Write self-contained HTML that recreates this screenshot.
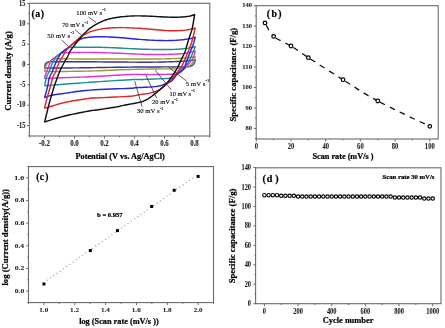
<!DOCTYPE html>
<html><head><meta charset="utf-8"><style>
html,body{margin:0;padding:0;background:#fff;}
svg{display:block;will-change:transform;}
text{font-family:"Liberation Serif",serif;fill:#000;stroke:#000;stroke-width:0.22px;}
.tk{stroke:#222;stroke-width:0.08px;fill:#1a1a1a;}
</style></head><body>
<svg width="445" height="328" viewBox="0 0 445 328">
<rect width="445" height="328" fill="#fff"/>
<rect x="29.4" y="3.3" width="180.4" height="132.7" fill="none" stroke="#6a6a6a" stroke-width="1.1"/>
<line x1="27.1" y1="3.45" x2="29.4" y2="3.45" stroke="#6a6a6a" stroke-width="1"/>
<line x1="27.1" y1="23.8" x2="29.4" y2="23.8" stroke="#6a6a6a" stroke-width="1"/>
<line x1="27.1" y1="44.15" x2="29.4" y2="44.15" stroke="#6a6a6a" stroke-width="1"/>
<line x1="27.1" y1="64.5" x2="29.4" y2="64.5" stroke="#6a6a6a" stroke-width="1"/>
<line x1="27.1" y1="84.85" x2="29.4" y2="84.85" stroke="#6a6a6a" stroke-width="1"/>
<line x1="27.1" y1="105.2" x2="29.4" y2="105.2" stroke="#6a6a6a" stroke-width="1"/>
<line x1="27.1" y1="125.55" x2="29.4" y2="125.55" stroke="#6a6a6a" stroke-width="1"/>
<line x1="28.2" y1="13.62" x2="29.4" y2="13.62" stroke="#6a6a6a" stroke-width="1"/>
<line x1="28.2" y1="33.97" x2="29.4" y2="33.97" stroke="#6a6a6a" stroke-width="1"/>
<line x1="28.2" y1="54.33" x2="29.4" y2="54.33" stroke="#6a6a6a" stroke-width="1"/>
<line x1="28.2" y1="74.67" x2="29.4" y2="74.67" stroke="#6a6a6a" stroke-width="1"/>
<line x1="28.2" y1="95.03" x2="29.4" y2="95.03" stroke="#6a6a6a" stroke-width="1"/>
<line x1="28.2" y1="115.38" x2="29.4" y2="115.38" stroke="#6a6a6a" stroke-width="1"/>
<line x1="28.2" y1="135.73" x2="29.4" y2="135.73" stroke="#6a6a6a" stroke-width="1"/>
<line x1="44.5" y1="136" x2="44.5" y2="138.5" stroke="#6a6a6a" stroke-width="1"/>
<line x1="74.5" y1="136" x2="74.5" y2="138.5" stroke="#6a6a6a" stroke-width="1"/>
<line x1="104.5" y1="136" x2="104.5" y2="138.5" stroke="#6a6a6a" stroke-width="1"/>
<line x1="134.5" y1="136" x2="134.5" y2="138.5" stroke="#6a6a6a" stroke-width="1"/>
<line x1="164.5" y1="136" x2="164.5" y2="138.5" stroke="#6a6a6a" stroke-width="1"/>
<line x1="194.5" y1="136" x2="194.5" y2="138.5" stroke="#6a6a6a" stroke-width="1"/>
<line x1="29.5" y1="136" x2="29.5" y2="137.3" stroke="#6a6a6a" stroke-width="1"/>
<line x1="59.5" y1="136" x2="59.5" y2="137.3" stroke="#6a6a6a" stroke-width="1"/>
<line x1="89.5" y1="136" x2="89.5" y2="137.3" stroke="#6a6a6a" stroke-width="1"/>
<line x1="119.5" y1="136" x2="119.5" y2="137.3" stroke="#6a6a6a" stroke-width="1"/>
<line x1="149.5" y1="136" x2="149.5" y2="137.3" stroke="#6a6a6a" stroke-width="1"/>
<line x1="179.5" y1="136" x2="179.5" y2="137.3" stroke="#6a6a6a" stroke-width="1"/>
<line x1="209.5" y1="136" x2="209.5" y2="137.3" stroke="#6a6a6a" stroke-width="1"/>
<text x="25.45" y="5.65" font-size="7.55" font-weight="bold" text-anchor="end" textLength="6.4" lengthAdjust="spacingAndGlyphs" class="tk">15</text>
<text x="25.45" y="26" font-size="7.55" font-weight="bold" text-anchor="end" textLength="6.4" lengthAdjust="spacingAndGlyphs" class="tk">10</text>
<text x="25.45" y="46.35" font-size="7.55" font-weight="bold" text-anchor="end" textLength="3.2" lengthAdjust="spacingAndGlyphs" class="tk">5</text>
<text x="25.45" y="66.7" font-size="7.55" font-weight="bold" text-anchor="end" textLength="3.2" lengthAdjust="spacingAndGlyphs" class="tk">0</text>
<text x="25.45" y="87.05" font-size="7.55" font-weight="bold" text-anchor="end" textLength="5.33" lengthAdjust="spacingAndGlyphs" class="tk">-5</text>
<text x="25.45" y="107.4" font-size="7.55" font-weight="bold" text-anchor="end" textLength="8.53" lengthAdjust="spacingAndGlyphs" class="tk">-10</text>
<text x="25.45" y="127.75" font-size="7.55" font-weight="bold" text-anchor="end" textLength="8.53" lengthAdjust="spacingAndGlyphs" class="tk">-15</text>
<text x="44.5" y="145.7" font-size="7.38" font-weight="bold" text-anchor="middle" textLength="10.92" lengthAdjust="spacingAndGlyphs" class="tk">-0.2</text>
<text x="74.5" y="145.7" font-size="7.38" font-weight="bold" text-anchor="middle" textLength="8.62" lengthAdjust="spacingAndGlyphs" class="tk">0.0</text>
<text x="104.5" y="145.7" font-size="7.38" font-weight="bold" text-anchor="middle" textLength="8.62" lengthAdjust="spacingAndGlyphs" class="tk">0.2</text>
<text x="134.5" y="145.7" font-size="7.38" font-weight="bold" text-anchor="middle" textLength="8.62" lengthAdjust="spacingAndGlyphs" class="tk">0.4</text>
<text x="164.5" y="145.7" font-size="7.38" font-weight="bold" text-anchor="middle" textLength="8.62" lengthAdjust="spacingAndGlyphs" class="tk">0.6</text>
<text x="194.5" y="145.7" font-size="7.38" font-weight="bold" text-anchor="middle" textLength="8.62" lengthAdjust="spacingAndGlyphs" class="tk">0.8</text>
<text x="75.46" y="158.6" font-size="8.3" font-weight="bold" fill="#000" textLength="89.3" lengthAdjust="spacingAndGlyphs" >Potential (V vs. Ag/AgCl)</text>
<text transform="translate(11.4,110.82) rotate(-90)" x="0" y="0" font-size="8.4" font-weight="bold" fill="#000" textLength="79.6" lengthAdjust="spacingAndGlyphs">Current density (A/g)</text>
<text y="17.2" font-size="9.8" font-weight="bold"><tspan x="31.47">(</tspan><tspan x="35.22">a</tspan><tspan x="40.77">)</tspan></text>
<g fill="none" stroke-width="1.45" stroke-linejoin="round">
<path d="M44.8,68 L44.8,67.85 L44.81,67.64 L44.81,67.4 L44.81,67.12 L44.82,66.84 L44.84,66.55 L44.86,66.26 L44.9,66 L44.95,65.74 L45.01,65.48 L45.07,65.21 L45.14,64.95 L45.22,64.69 L45.31,64.44 L45.4,64.21 L45.5,64 L45.6,63.81 L45.7,63.63 L45.8,63.47 L45.91,63.33 L46.03,63.19 L46.17,63.05 L46.32,62.93 L46.5,62.8 L46.69,62.68 L46.89,62.56 L47.11,62.45 L47.34,62.34 L47.6,62.25 L47.87,62.16 L48.17,62.07 L48.5,62 L48.63,61.94 L48.46,61.88 L48.19,61.83 L48,61.79 L48.09,61.76 L48.66,61.74 L49.9,61.71 L52,61.7 L55.09,61.69 L59.03,61.69 L63.64,61.7 L68.72,61.71 L74.09,61.73 L79.55,61.75 L84.92,61.78 L90,61.8 L95.05,61.83 L100.35,61.87 L105.78,61.91 L111.19,61.95 L116.45,61.99 L121.43,62.03 L125.99,62.07 L130,62.1 L133.37,62.13 L136.18,62.15 L138.58,62.17 L140.69,62.19 L142.65,62.21 L144.6,62.21 L146.67,62.21 L149,62.2 L151.57,62.18 L154.25,62.14 L156.99,62.1 L159.75,62.06 L162.48,62 L165.12,61.94 L167.65,61.87 L170,61.8 L172.19,61.72 L174.28,61.64 L176.28,61.55 L178.17,61.45 L179.99,61.35 L181.73,61.24 L183.4,61.12 L185,61 L186.57,60.86 L188.13,60.7 L189.62,60.53 L191.04,60.35 L192.33,60.18 L193.48,60.02 L194.45,59.9 L195.2,59.8 L195.16,60.01 L195.12,60.29 L195.07,60.62 L195.01,60.99 L194.94,61.38 L194.85,61.78 L194.74,62.15 L194.6,62.5 L194.44,62.83 L194.27,63.16 L194.08,63.5 L193.87,63.83 L193.64,64.14 L193.38,64.45 L193.1,64.74 L192.8,65 L192.47,65.24 L192.13,65.47 L191.77,65.68 L191.38,65.88 L190.96,66.06 L190.51,66.23 L190.03,66.37 L189.5,66.5 L188.94,66.61 L188.36,66.69 L187.75,66.75 L187.11,66.79 L186.42,66.83 L185.67,66.85 L184.87,66.88 L184,66.9 L183.08,66.92 L182.14,66.93 L181.15,66.93 L180.09,66.93 L178.97,66.92 L177.75,66.91 L176.44,66.9 L175,66.9 L173.51,66.9 L172.02,66.9 L170.47,66.89 L168.81,66.89 L166.99,66.89 L164.95,66.89 L162.63,66.89 L160,66.9 L157.04,66.91 L153.79,66.93 L150.29,66.94 L146.56,66.96 L142.64,66.99 L138.55,67.02 L134.33,67.05 L130,67.1 L125.41,67.16 L120.47,67.23 L115.29,67.31 L110,67.39 L104.71,67.48 L99.53,67.56 L94.59,67.64 L90,67.7 L85.67,67.75 L81.45,67.8 L77.37,67.85 L73.45,67.89 L69.73,67.92 L66.23,67.95 L62.97,67.98 L60,68 L57.29,68.01 L54.8,68.02 L52.55,68.02 L50.52,68.02 L48.74,68.01 L47.18,68.01 L45.87,68 L44.8,68Z" stroke="#34349a"/>
<path d="M44.8,71.5 L44.84,71.23 L44.88,70.85 L44.94,70.41 L45,69.92 L45.07,69.42 L45.14,68.91 L45.22,68.43 L45.3,68 L45.38,67.61 L45.46,67.23 L45.55,66.85 L45.64,66.49 L45.74,66.15 L45.85,65.81 L45.97,65.5 L46.1,65.2 L46.24,64.93 L46.38,64.68 L46.53,64.46 L46.69,64.25 L46.87,64.05 L47.06,63.84 L47.27,63.63 L47.5,63.4 L47.76,63.16 L48.04,62.92 L48.33,62.67 L48.65,62.42 L48.98,62.17 L49.31,61.91 L49.66,61.66 L50,61.4 L50.35,61.13 L50.71,60.84 L51.09,60.55 L51.47,60.25 L51.85,59.97 L52.24,59.71 L52.62,59.48 L53,59.3 L53.35,59.17 L53.68,59.07 L53.99,59.01 L54.31,58.98 L54.66,58.95 L55.04,58.94 L55.48,58.92 L56,58.9 L56.46,58.87 L56.77,58.85 L57.06,58.83 L57.44,58.81 L58.01,58.8 L58.88,58.8 L60.18,58.8 L62,58.8 L64.24,58.81 L66.73,58.83 L69.53,58.86 L72.69,58.89 L76.26,58.93 L80.3,58.96 L84.87,58.98 L90,59 L96.15,59.01 L103.46,59.02 L111.52,59.03 L119.94,59.03 L128.3,59.03 L136.2,59.03 L143.23,59.02 L149,59 L153.48,58.98 L157.06,58.96 L159.92,58.93 L162.25,58.89 L164.23,58.85 L166.06,58.81 L167.92,58.76 L170,58.7 L172.19,58.64 L174.28,58.57 L176.28,58.5 L178.17,58.42 L179.99,58.33 L181.73,58.23 L183.4,58.12 L185,58 L186.57,57.85 L188.13,57.67 L189.62,57.46 L191.04,57.26 L192.33,57.05 L193.48,56.87 L194.45,56.71 L195.2,56.6 L195.12,56.9 L195.01,57.31 L194.9,57.79 L194.76,58.33 L194.6,58.9 L194.42,59.46 L194.22,60 L194,60.5 L193.76,60.96 L193.5,61.41 L193.22,61.86 L192.93,62.31 L192.6,62.74 L192.26,63.17 L191.89,63.59 L191.5,64 L191.08,64.41 L190.64,64.82 L190.18,65.22 L189.69,65.62 L189.18,66 L188.64,66.36 L188.08,66.7 L187.5,67 L186.89,67.28 L186.27,67.53 L185.61,67.76 L184.94,67.97 L184.24,68.16 L183.52,68.32 L182.77,68.47 L182,68.6 L181.25,68.7 L180.54,68.77 L179.84,68.82 L179.09,68.85 L178.28,68.87 L177.35,68.88 L176.27,68.89 L175,68.9 L173.61,68.91 L172.16,68.91 L170.62,68.9 L168.94,68.88 L167.08,68.87 L164.99,68.86 L162.65,68.87 L160,68.9 L157.04,68.94 L153.79,68.99 L150.29,69.04 L146.56,69.11 L142.64,69.18 L138.55,69.27 L134.33,69.38 L130,69.5 L125.41,69.65 L120.47,69.84 L115.29,70.04 L110,70.26 L104.71,70.47 L99.53,70.67 L94.59,70.85 L90,71 L85.67,71.11 L81.45,71.21 L77.37,71.28 L73.45,71.34 L69.73,71.39 L66.23,71.43 L62.97,71.47 L60,71.5 L57.29,71.52 L54.8,71.54 L52.55,71.54 L50.52,71.53 L48.74,71.52 L47.18,71.51 L45.87,71.5 L44.8,71.5Z" stroke="#9a9a3c"/>
<path d="M44.8,78.5 L44.81,78.32 L44.8,78.09 L44.8,77.81 L44.8,77.5 L44.81,77.16 L44.85,76.79 L44.91,76.4 L45,76 L45.13,75.57 L45.3,75.11 L45.5,74.61 L45.71,74.09 L45.94,73.57 L46.17,73.04 L46.39,72.51 L46.6,72 L46.8,71.5 L47.01,71 L47.21,70.5 L47.42,70 L47.62,69.5 L47.82,69 L48.01,68.5 L48.2,68 L48.38,67.49 L48.55,66.97 L48.72,66.44 L48.88,65.92 L49.04,65.4 L49.2,64.91 L49.35,64.44 L49.5,64 L49.64,63.6 L49.77,63.22 L49.89,62.86 L50.01,62.52 L50.14,62.2 L50.27,61.9 L50.43,61.6 L50.6,61.3 L50.79,61.02 L50.98,60.76 L51.18,60.53 L51.4,60.29 L51.64,60.06 L51.89,59.83 L52.18,59.57 L52.5,59.3 L52.86,59 L53.27,58.69 L53.72,58.36 L54.18,58.02 L54.65,57.68 L55.12,57.34 L55.58,57.01 L56,56.7 L56.4,56.39 L56.8,56.08 L57.18,55.77 L57.56,55.46 L57.93,55.17 L58.3,54.89 L58.65,54.63 L59,54.4 L59.33,54.19 L59.65,54.01 L59.95,53.84 L60.25,53.69 L60.55,53.55 L60.85,53.42 L61.17,53.31 L61.5,53.2 L61.83,53.1 L62.14,53.02 L62.44,52.94 L62.76,52.88 L63.1,52.83 L63.5,52.78 L63.96,52.74 L64.5,52.7 L65.05,52.67 L65.56,52.65 L66.09,52.64 L66.69,52.63 L67.42,52.63 L68.33,52.62 L69.47,52.61 L70.9,52.6 L72.61,52.57 L74.53,52.53 L76.65,52.48 L78.98,52.44 L81.48,52.4 L84.16,52.38 L87,52.37 L90,52.4 L93.24,52.46 L96.76,52.54 L100.5,52.64 L104.38,52.76 L108.34,52.89 L112.31,53.03 L116.22,53.17 L120,53.3 L123.73,53.45 L127.51,53.61 L131.3,53.79 L135.06,53.97 L138.75,54.14 L142.34,54.29 L145.76,54.41 L149,54.5 L152.05,54.55 L154.95,54.57 L157.72,54.56 L160.38,54.54 L162.92,54.5 L165.36,54.44 L167.72,54.37 L170,54.3 L172.19,54.22 L174.28,54.13 L176.28,54.04 L178.17,53.92 L179.99,53.8 L181.73,53.65 L183.4,53.49 L185,53.3 L186.57,53.07 L188.13,52.78 L189.62,52.47 L191.04,52.14 L192.33,51.82 L193.48,51.52 L194.45,51.28 L195.2,51.1 L195.1,51.48 L194.98,51.98 L194.84,52.57 L194.68,53.24 L194.49,53.94 L194.28,54.65 L194.05,55.35 L193.8,56 L193.51,56.63 L193.19,57.29 L192.83,57.96 L192.46,58.62 L192.07,59.27 L191.7,59.89 L191.34,60.47 L191,61 L190.7,61.46 L190.44,61.84 L190.19,62.18 L189.95,62.5 L189.69,62.82 L189.41,63.16 L189.08,63.54 L188.7,64 L188.25,64.54 L187.74,65.14 L187.19,65.79 L186.61,66.46 L186.02,67.14 L185.43,67.8 L184.85,68.43 L184.3,69 L183.77,69.53 L183.26,70.05 L182.74,70.54 L182.24,71.02 L181.73,71.47 L181.23,71.88 L180.72,72.26 L180.2,72.6 L179.69,72.9 L179.2,73.15 L178.71,73.37 L178.22,73.56 L177.71,73.72 L177.18,73.87 L176.61,73.99 L176,74.1 L175.43,74.19 L174.95,74.24 L174.5,74.27 L173.99,74.27 L173.35,74.27 L172.53,74.27 L171.43,74.28 L170,74.3 L168.17,74.34 L165.98,74.38 L163.53,74.42 L160.88,74.47 L158.12,74.51 L155.33,74.55 L152.6,74.58 L150,74.6 L147.64,74.59 L145.47,74.55 L143.38,74.49 L141.25,74.42 L138.96,74.38 L136.41,74.37 L133.46,74.4 L130,74.5 L125.89,74.68 L121.17,74.94 L116.03,75.24 L110.62,75.58 L105.15,75.93 L99.77,76.26 L94.66,76.56 L90,76.8 L85.67,76.99 L81.45,77.15 L77.37,77.28 L73.45,77.4 L69.73,77.5 L66.23,77.6 L62.97,77.7 L60,77.8 L57.29,77.91 L54.8,78.01 L52.55,78.12 L50.52,78.21 L48.74,78.3 L47.18,78.38 L45.87,78.45 L44.8,78.5Z" stroke="#dd33dd"/>
<path d="M44.8,85.8 L44.81,85.68 L44.82,85.53 L44.83,85.35 L44.85,85.15 L44.87,84.92 L44.9,84.65 L44.94,84.34 L45,84 L45.07,83.61 L45.15,83.15 L45.24,82.66 L45.34,82.14 L45.45,81.6 L45.56,81.05 L45.68,80.52 L45.8,80 L45.92,79.5 L46.03,79 L46.15,78.5 L46.27,78 L46.4,77.5 L46.55,77 L46.71,76.5 L46.9,76 L47.12,75.5 L47.37,75 L47.64,74.5 L47.92,74 L48.21,73.5 L48.49,73 L48.75,72.5 L49,72 L49.23,71.5 L49.44,71 L49.65,70.5 L49.84,70 L50.04,69.5 L50.23,69 L50.41,68.5 L50.6,68 L50.78,67.5 L50.95,67 L51.11,66.5 L51.27,66 L51.43,65.5 L51.61,65 L51.79,64.5 L52,64 L52.23,63.49 L52.49,62.97 L52.75,62.45 L53.03,61.93 L53.31,61.41 L53.59,60.92 L53.85,60.44 L54.1,60 L54.32,59.59 L54.53,59.2 L54.72,58.83 L54.91,58.48 L55.11,58.15 L55.31,57.82 L55.54,57.51 L55.8,57.2 L56.08,56.91 L56.37,56.66 L56.67,56.42 L56.99,56.19 L57.33,55.96 L57.69,55.71 L58.08,55.42 L58.5,55.1 L58.97,54.72 L59.5,54.29 L60.07,53.83 L60.65,53.36 L61.23,52.88 L61.8,52.42 L62.33,51.98 L62.8,51.6 L63.21,51.26 L63.58,50.94 L63.92,50.65 L64.23,50.37 L64.54,50.12 L64.84,49.87 L65.16,49.63 L65.5,49.4 L65.86,49.17 L66.22,48.95 L66.58,48.75 L66.95,48.55 L67.33,48.37 L67.71,48.2 L68.1,48.04 L68.5,47.9 L68.81,47.78 L69,47.67 L69.14,47.59 L69.31,47.51 L69.6,47.45 L70.09,47.39 L70.87,47.34 L72,47.3 L73.54,47.26 L75.43,47.23 L77.6,47.2 L79.97,47.19 L82.47,47.18 L85.02,47.18 L87.56,47.19 L90,47.2 L92.4,47.22 L94.86,47.25 L97.35,47.29 L99.88,47.33 L102.41,47.38 L104.95,47.45 L107.49,47.52 L110,47.6 L112.5,47.7 L115,47.81 L117.5,47.94 L120,48.08 L122.5,48.21 L125,48.35 L127.5,48.48 L130,48.6 L132.5,48.71 L135,48.83 L137.5,48.95 L140,49.06 L142.5,49.16 L145,49.25 L147.5,49.33 L150,49.4 L152.53,49.45 L155.12,49.5 L157.72,49.53 L160.31,49.56 L162.87,49.57 L165.35,49.56 L167.74,49.54 L170,49.5 L172.15,49.44 L174.21,49.37 L176.2,49.28 L178.11,49.18 L179.95,49.06 L181.7,48.93 L183.39,48.77 L185,48.6 L186.57,48.39 L188.13,48.13 L189.62,47.84 L191.04,47.54 L192.33,47.25 L193.48,46.99 L194.45,46.76 L195.2,46.6 L195.06,47 L194.88,47.51 L194.67,48.12 L194.43,48.8 L194.16,49.55 L193.87,50.34 L193.55,51.16 L193.2,52 L192.81,52.9 L192.36,53.91 L191.88,54.99 L191.37,56.09 L190.86,57.18 L190.37,58.22 L189.91,59.17 L189.5,60 L189.16,60.68 L188.87,61.26 L188.62,61.75 L188.38,62.19 L188.14,62.6 L187.88,63.02 L187.57,63.48 L187.2,64 L186.77,64.58 L186.29,65.2 L185.77,65.85 L185.23,66.5 L184.67,67.15 L184.11,67.8 L183.55,68.42 L183,69 L182.45,69.55 L181.9,70.09 L181.33,70.6 L180.76,71.11 L180.2,71.6 L179.65,72.07 L179.11,72.54 L178.6,73 L178.12,73.46 L177.68,73.91 L177.25,74.35 L176.84,74.78 L176.42,75.2 L175.98,75.59 L175.51,75.96 L175,76.3 L174.48,76.61 L173.97,76.9 L173.45,77.17 L172.9,77.42 L172.3,77.64 L171.63,77.85 L170.87,78.03 L170,78.2 L169.06,78.34 L168.09,78.44 L167.06,78.52 L165.94,78.58 L164.7,78.62 L163.32,78.67 L161.76,78.73 L160,78.8 L157.91,78.89 L155.47,78.98 L152.79,79.08 L150,79.18 L147.21,79.27 L144.53,79.36 L142.09,79.44 L140,79.5 L138.48,79.53 L137.5,79.53 L136.84,79.51 L136.25,79.48 L135.51,79.47 L134.38,79.49 L132.62,79.56 L130,79.7 L126.37,79.91 L121.88,80.19 L116.76,80.52 L111.25,80.88 L105.59,81.25 L100,81.62 L94.73,81.98 L90,82.3 L85.67,82.6 L81.45,82.9 L77.37,83.19 L73.45,83.48 L69.73,83.76 L66.23,84.02 L62.97,84.27 L60,84.5 L57.29,84.71 L54.8,84.92 L52.55,85.11 L50.52,85.29 L48.74,85.45 L47.18,85.59 L45.87,85.71 L44.8,85.8Z" stroke="#1f8f8f"/>
<path d="M44.7,97.5 L44.79,97.15 L44.92,96.68 L45.07,96.12 L45.23,95.5 L45.4,94.85 L45.58,94.2 L45.75,93.57 L45.9,93 L46.04,92.48 L46.18,91.98 L46.32,91.49 L46.46,91 L46.6,90.51 L46.73,90.02 L46.87,89.52 L47,89 L47.13,88.46 L47.26,87.91 L47.4,87.35 L47.52,86.78 L47.65,86.21 L47.77,85.64 L47.89,85.07 L48,84.5 L48.1,83.93 L48.18,83.36 L48.25,82.79 L48.32,82.22 L48.4,81.65 L48.48,81.09 L48.58,80.54 L48.7,80 L48.84,79.48 L48.98,78.96 L49.14,78.46 L49.31,77.97 L49.49,77.48 L49.68,76.99 L49.89,76.5 L50.1,76 L50.33,75.5 L50.59,75 L50.87,74.5 L51.15,74 L51.43,73.5 L51.71,73 L51.97,72.5 L52.2,72 L52.41,71.5 L52.59,71 L52.76,70.5 L52.93,70 L53.08,69.5 L53.25,69 L53.42,68.5 L53.6,68 L53.8,67.5 L54,67 L54.22,66.5 L54.43,66 L54.65,65.5 L54.87,65 L55.09,64.5 L55.3,64 L55.51,63.5 L55.71,63 L55.91,62.5 L56.11,62 L56.31,61.5 L56.53,61 L56.75,60.5 L57,60 L57.27,59.49 L57.56,58.98 L57.87,58.46 L58.19,57.94 L58.51,57.43 L58.82,56.93 L59.12,56.45 L59.4,56 L59.64,55.58 L59.84,55.19 L60.03,54.83 L60.21,54.48 L60.4,54.12 L60.64,53.77 L60.93,53.4 L61.3,53 L61.76,52.58 L62.29,52.13 L62.88,51.68 L63.51,51.21 L64.16,50.75 L64.8,50.29 L65.42,49.83 L66,49.4 L66.54,48.99 L67.05,48.59 L67.55,48.2 L68.04,47.82 L68.53,47.43 L69.03,47.04 L69.55,46.63 L70.1,46.2 L70.68,45.73 L71.3,45.23 L71.94,44.71 L72.59,44.18 L73.23,43.66 L73.85,43.16 L74.45,42.71 L75,42.3 L75.5,41.95 L75.97,41.64 L76.42,41.36 L76.84,41.11 L77.25,40.87 L77.66,40.65 L78.07,40.43 L78.5,40.2 L78.93,39.97 L79.36,39.75 L79.78,39.54 L80.2,39.33 L80.63,39.13 L81.07,38.95 L81.52,38.77 L82,38.6 L82.45,38.45 L82.84,38.31 L83.22,38.18 L83.62,38.06 L84.09,37.94 L84.66,37.83 L85.39,37.72 L86.3,37.6 L87.43,37.47 L88.77,37.34 L90.25,37.2 L91.84,37.07 L93.48,36.95 L95.14,36.84 L96.76,36.75 L98.3,36.7 L99.75,36.68 L101.17,36.67 L102.56,36.69 L103.96,36.73 L105.38,36.78 L106.85,36.85 L108.38,36.92 L110,37 L111.68,37.09 L113.4,37.18 L115.16,37.29 L116.98,37.41 L118.86,37.54 L120.82,37.68 L122.86,37.83 L125,38 L127.26,38.19 L129.65,38.42 L132.13,38.66 L134.69,38.91 L137.28,39.16 L139.88,39.4 L142.47,39.62 L145,39.8 L147.53,39.96 L150.12,40.1 L152.72,40.23 L155.31,40.35 L157.87,40.45 L160.35,40.52 L162.74,40.57 L165,40.6 L167.15,40.6 L169.22,40.57 L171.21,40.51 L173.12,40.44 L174.96,40.35 L176.72,40.24 L178.4,40.12 L180,40 L181.52,39.86 L182.96,39.7 L184.33,39.53 L185.61,39.34 L186.82,39.15 L187.95,38.96 L189.01,38.78 L190,38.6 L190.92,38.42 L191.76,38.24 L192.53,38.05 L193.22,37.86 L193.84,37.69 L194.38,37.53 L194.83,37.4 L195.2,37.3 L195.06,37.81 L194.89,38.47 L194.68,39.26 L194.44,40.15 L194.18,41.1 L193.9,42.08 L193.61,43.05 L193.3,44 L192.97,44.94 L192.61,45.91 L192.23,46.9 L191.83,47.92 L191.42,48.94 L191,49.97 L190.6,50.99 L190.2,52 L189.81,53 L189.42,54 L189.04,55 L188.65,56 L188.26,57 L187.87,58 L187.49,59 L187.1,60 L186.72,61.03 L186.34,62.11 L185.96,63.2 L185.59,64.28 L185.21,65.33 L184.82,66.32 L184.42,67.22 L184,68 L183.56,68.66 L183.1,69.22 L182.63,69.7 L182.15,70.12 L181.67,70.49 L181.2,70.83 L180.74,71.16 L180.3,71.5 L179.9,71.8 L179.53,72.01 L179.19,72.17 L178.84,72.33 L178.49,72.52 L178.11,72.76 L177.68,73.11 L177.2,73.6 L176.66,74.27 L176.07,75.1 L175.44,76.04 L174.79,77.04 L174.11,78.05 L173.41,79.02 L172.71,79.88 L172,80.6 L171.28,81.17 L170.53,81.65 L169.76,82.06 L168.98,82.41 L168.19,82.72 L167.41,83.01 L166.64,83.3 L165.9,83.6 L165.19,83.91 L164.52,84.21 L163.87,84.49 L163.23,84.76 L162.56,85.02 L161.86,85.26 L161.12,85.49 L160.3,85.7 L159.46,85.9 L158.64,86.07 L157.8,86.23 L156.91,86.38 L155.94,86.52 L154.85,86.65 L153.62,86.78 L152.2,86.9 L150.49,87.02 L148.48,87.13 L146.27,87.24 L143.97,87.34 L141.68,87.43 L139.52,87.52 L137.59,87.61 L136,87.7 L134.99,87.78 L134.58,87.84 L134.5,87.89 L134.49,87.94 L134.29,88 L133.65,88.07 L132.31,88.17 L130,88.3 L126.52,88.46 L122.02,88.64 L116.79,88.83 L111.12,89.05 L105.32,89.28 L99.67,89.54 L94.47,89.81 L90,90.1 L86.17,90.42 L82.65,90.78 L79.4,91.17 L76.39,91.58 L73.59,91.98 L70.94,92.38 L68.43,92.76 L66,93.1 L63.7,93.41 L61.57,93.71 L59.61,93.98 L57.79,94.25 L56.1,94.51 L54.53,94.77 L53.07,95.03 L51.7,95.3 L50.43,95.59 L49.27,95.9 L48.23,96.22 L47.31,96.54 L46.49,96.84 L45.79,97.1 L45.19,97.33 L44.7,97.5Z" stroke="#2626d8"/>
<path d="M44.6,107.9 L44.72,107.4 L44.89,106.74 L45.08,105.95 L45.3,105.08 L45.53,104.15 L45.76,103.22 L45.99,102.32 L46.2,101.5 L46.4,100.73 L46.6,99.98 L46.79,99.23 L46.99,98.49 L47.19,97.75 L47.39,97 L47.59,96.26 L47.8,95.5 L48.02,94.73 L48.25,93.93 L48.48,93.13 L48.72,92.32 L48.95,91.53 L49.18,90.76 L49.4,90.01 L49.6,89.3 L49.79,88.63 L49.96,87.99 L50.13,87.38 L50.29,86.79 L50.45,86.22 L50.6,85.65 L50.75,85.08 L50.9,84.5 L51.05,83.92 L51.18,83.34 L51.32,82.77 L51.45,82.2 L51.58,81.64 L51.72,81.08 L51.85,80.54 L52,80 L52.15,79.48 L52.29,78.96 L52.43,78.46 L52.58,77.97 L52.74,77.48 L52.91,76.99 L53.09,76.5 L53.3,76 L53.54,75.5 L53.81,75 L54.1,74.5 L54.4,74 L54.7,73.5 L54.99,73 L55.26,72.5 L55.5,72 L55.7,71.5 L55.88,71 L56.04,70.5 L56.18,70 L56.32,69.5 L56.47,69 L56.62,68.5 L56.8,68 L56.99,67.5 L57.2,67 L57.41,66.5 L57.62,66 L57.84,65.5 L58.07,65 L58.28,64.5 L58.5,64 L58.71,63.5 L58.9,63 L59.09,62.5 L59.29,62 L59.49,61.5 L59.7,61 L59.94,60.5 L60.2,60 L60.49,59.51 L60.8,59.02 L61.13,58.54 L61.48,58.06 L61.83,57.57 L62.19,57.07 L62.55,56.55 L62.9,56 L63.24,55.42 L63.58,54.82 L63.91,54.2 L64.24,53.56 L64.59,52.92 L64.96,52.27 L65.36,51.63 L65.8,51 L66.26,50.38 L66.74,49.77 L67.23,49.17 L67.76,48.56 L68.31,47.95 L68.9,47.32 L69.52,46.67 L70.2,46 L70.95,45.29 L71.77,44.53 L72.64,43.75 L73.55,42.96 L74.46,42.18 L75.36,41.41 L76.21,40.68 L77,40 L77.73,39.36 L78.44,38.73 L79.12,38.12 L79.77,37.54 L80.4,36.99 L81.01,36.48 L81.61,36.01 L82.2,35.6 L82.77,35.25 L83.33,34.96 L83.87,34.73 L84.39,34.53 L84.9,34.35 L85.39,34.18 L85.85,34 L86.3,33.8 L86.68,33.59 L86.96,33.39 L87.2,33.19 L87.44,32.99 L87.71,32.79 L88.07,32.58 L88.55,32.35 L89.2,32.1 L90.04,31.82 L91.04,31.51 L92.15,31.17 L93.36,30.83 L94.61,30.49 L95.87,30.17 L97.12,29.87 L98.3,29.6 L99.41,29.37 L100.46,29.15 L101.49,28.96 L102.53,28.78 L103.62,28.62 L104.79,28.47 L106.07,28.33 L107.5,28.2 L109.05,28.08 L110.67,27.95 L112.37,27.84 L114.17,27.74 L116.07,27.67 L118.09,27.61 L120.23,27.59 L122.5,27.6 L124.96,27.65 L127.61,27.74 L130.41,27.85 L133.31,27.99 L136.27,28.15 L139.23,28.33 L142.16,28.51 L145,28.7 L147.82,28.91 L150.7,29.17 L153.59,29.44 L156.47,29.72 L159.28,30 L162,30.25 L164.59,30.45 L167,30.6 L169.26,30.69 L171.41,30.74 L173.45,30.76 L175.38,30.74 L177.2,30.71 L178.91,30.65 L180.51,30.58 L182,30.5 L183.35,30.4 L184.56,30.28 L185.64,30.13 L186.61,29.97 L187.51,29.8 L188.36,29.63 L189.18,29.46 L190,29.3 L190.82,29.14 L191.62,28.97 L192.38,28.8 L193.1,28.63 L193.75,28.46 L194.33,28.32 L194.82,28.19 L195.2,28.1 L195.06,28.71 L194.87,29.52 L194.64,30.48 L194.39,31.55 L194.12,32.68 L193.84,33.83 L193.56,34.95 L193.3,36 L193.05,37 L192.79,37.99 L192.54,38.99 L192.28,39.99 L192,41 L191.72,42 L191.42,43 L191.1,44 L190.76,45 L190.4,46 L190.02,47 L189.62,48 L189.22,49 L188.82,50 L188.41,51 L188,52 L187.59,53 L187.18,54 L186.76,55 L186.34,56 L185.92,57 L185.49,58 L185.05,59 L184.6,60 L184.15,61.02 L183.7,62.06 L183.24,63.11 L182.78,64.16 L182.3,65.18 L181.82,66.18 L181.32,67.12 L180.8,68 L180.27,68.8 L179.72,69.53 L179.16,70.2 L178.59,70.84 L178,71.47 L177.41,72.11 L176.81,72.78 L176.2,73.5 L175.58,74.28 L174.94,75.1 L174.29,75.96 L173.63,76.82 L172.97,77.67 L172.31,78.5 L171.65,79.28 L171,80 L170.36,80.65 L169.73,81.24 L169.1,81.78 L168.48,82.3 L167.84,82.81 L167.21,83.31 L166.56,83.84 L165.9,84.4 L165.25,85 L164.63,85.62 L164.02,86.26 L163.39,86.9 L162.72,87.54 L162,88.15 L161.2,88.75 L160.3,89.3 L159.29,89.83 L158.18,90.34 L157,90.83 L155.76,91.3 L154.48,91.75 L153.18,92.16 L151.88,92.55 L150.6,92.9 L149.31,93.2 L148,93.46 L146.66,93.68 L145.32,93.88 L143.97,94.05 L142.63,94.23 L141.3,94.41 L140,94.6 L138.86,94.8 L137.93,95.01 L137.08,95.21 L136.21,95.41 L135.19,95.6 L133.89,95.8 L132.2,96 L130,96.2 L127.07,96.41 L123.44,96.63 L119.34,96.85 L115,97.07 L110.66,97.28 L106.56,97.48 L102.93,97.65 L100,97.8 L97.89,97.89 L96.42,97.92 L95.4,97.92 L94.62,97.91 L93.9,97.91 L93.02,97.96 L91.78,98.08 L90,98.3 L87.63,98.62 L84.86,99 L81.79,99.45 L78.54,99.95 L75.22,100.49 L71.95,101.05 L68.84,101.62 L66,102.2 L63.31,102.83 L60.6,103.54 L57.94,104.3 L55.38,105.07 L52.98,105.81 L50.81,106.49 L48.93,107.06 L47.4,107.5 L46.27,107.79 L45.52,107.95 L45.07,108.03 L44.84,108.03 L44.75,107.99 L44.73,107.94 L44.71,107.9 L44.6,107.9Z" stroke="#dc2626"/>
<path d="M44.7,121.9 L44.89,121.09 L45.15,120.01 L45.46,118.72 L45.8,117.29 L46.16,115.79 L46.52,114.28 L46.88,112.83 L47.2,111.5 L47.51,110.25 L47.82,109 L48.12,107.76 L48.43,106.54 L48.73,105.34 L49.03,104.18 L49.32,103.06 L49.6,102 L49.87,101 L50.13,100.05 L50.39,99.15 L50.64,98.28 L50.88,97.44 L51.12,96.62 L51.36,95.81 L51.6,95 L51.84,94.2 L52.07,93.41 L52.3,92.63 L52.52,91.88 L52.75,91.13 L52.97,90.41 L53.19,89.7 L53.4,89 L53.61,88.32 L53.82,87.66 L54.02,87.01 L54.22,86.38 L54.42,85.76 L54.61,85.16 L54.81,84.57 L55,84 L55.19,83.45 L55.38,82.93 L55.57,82.43 L55.76,81.94 L55.95,81.46 L56.13,80.98 L56.32,80.49 L56.5,80 L56.68,79.5 L56.85,79 L57.02,78.5 L57.19,78 L57.36,77.5 L57.54,77 L57.72,76.5 L57.9,76 L58.09,75.5 L58.28,75 L58.48,74.5 L58.68,74 L58.88,73.5 L59.09,73 L59.29,72.5 L59.5,72 L59.7,71.5 L59.91,71 L60.11,70.5 L60.31,70 L60.52,69.5 L60.74,69 L60.96,68.5 L61.2,68 L61.45,67.5 L61.72,67 L61.99,66.5 L62.28,66 L62.56,65.5 L62.85,65 L63.13,64.5 L63.4,64 L63.67,63.5 L63.92,63 L64.18,62.5 L64.44,62 L64.69,61.5 L64.96,61 L65.22,60.5 L65.5,60 L65.79,59.51 L66.08,59.02 L66.38,58.54 L66.69,58.06 L66.99,57.57 L67.3,57.07 L67.6,56.55 L67.9,56 L68.18,55.42 L68.45,54.82 L68.71,54.2 L68.97,53.56 L69.24,52.92 L69.53,52.27 L69.85,51.63 L70.2,51 L70.6,50.37 L71.03,49.74 L71.49,49.1 L71.97,48.47 L72.46,47.84 L72.95,47.21 L73.43,46.6 L73.9,46 L74.35,45.42 L74.79,44.86 L75.23,44.31 L75.66,43.76 L76.1,43.22 L76.55,42.66 L77.02,42.09 L77.5,41.5 L77.98,40.9 L78.45,40.3 L78.93,39.7 L79.41,39.08 L79.93,38.44 L80.49,37.77 L81.11,37.06 L81.8,36.3 L82.57,35.47 L83.39,34.56 L84.27,33.61 L85.2,32.63 L86.16,31.65 L87.16,30.68 L88.17,29.76 L89.2,28.9 L90.26,28.09 L91.35,27.31 L92.48,26.55 L93.64,25.82 L94.81,25.12 L95.98,24.45 L97.15,23.81 L98.3,23.2 L99.42,22.62 L100.52,22.08 L101.6,21.57 L102.69,21.09 L103.8,20.64 L104.97,20.21 L106.19,19.8 L107.5,19.4 L108.89,19.02 L110.33,18.67 L111.84,18.34 L113.39,18.03 L114.98,17.74 L116.62,17.48 L118.3,17.23 L120,17 L121.76,16.79 L123.57,16.6 L125.44,16.43 L127.34,16.28 L129.27,16.15 L131.19,16.05 L133.11,15.96 L135,15.9 L136.88,15.87 L138.75,15.86 L140.62,15.89 L142.5,15.93 L144.38,15.99 L146.25,16.06 L148.12,16.13 L150,16.2 L151.89,16.28 L153.8,16.38 L155.71,16.49 L157.62,16.61 L159.52,16.72 L161.39,16.83 L163.22,16.93 L165,17 L166.74,17.06 L168.46,17.12 L170.15,17.16 L171.81,17.2 L173.43,17.22 L175.01,17.23 L176.53,17.23 L178,17.2 L179.42,17.15 L180.79,17.09 L182.12,17.02 L183.4,16.92 L184.63,16.82 L185.81,16.69 L186.93,16.55 L188,16.4 L189.03,16.21 L190.04,15.98 L191.01,15.72 L191.93,15.45 L192.76,15.19 L193.49,14.95 L194.11,14.75 L194.6,14.6 L194.42,15.67 L194.19,17.13 L193.91,18.88 L193.61,20.8 L193.28,22.78 L192.94,24.72 L192.61,26.49 L192.3,28 L192,29.26 L191.69,30.38 L191.38,31.4 L191.06,32.34 L190.75,33.24 L190.43,34.13 L190.11,35.04 L189.8,36 L189.49,37 L189.17,38 L188.86,39 L188.54,40 L188.23,41 L187.92,42 L187.61,43 L187.3,44 L187,45 L186.73,46 L186.45,47 L186.18,48 L185.9,49 L185.6,50 L185.27,51 L184.9,52 L184.49,53 L184.05,54 L183.58,55 L183.09,56 L182.59,57 L182.08,58 L181.58,59 L181.1,60 L180.62,61.02 L180.13,62.07 L179.64,63.13 L179.16,64.19 L178.67,65.22 L178.2,66.21 L177.74,67.14 L177.3,68 L176.88,68.77 L176.49,69.45 L176.11,70.07 L175.74,70.66 L175.38,71.22 L175,71.79 L174.61,72.37 L174.2,73 L173.77,73.67 L173.32,74.35 L172.86,75.05 L172.39,75.76 L171.92,76.46 L171.45,77.16 L170.97,77.84 L170.5,78.5 L170.03,79.15 L169.54,79.81 L169.06,80.46 L168.57,81.1 L168.09,81.72 L167.61,82.32 L167.15,82.88 L166.7,83.4 L166.29,83.86 L165.94,84.24 L165.6,84.58 L165.27,84.91 L164.92,85.23 L164.52,85.59 L164.05,86.01 L163.5,86.5 L162.85,87.08 L162.12,87.72 L161.33,88.42 L160.5,89.14 L159.63,89.89 L158.75,90.64 L157.87,91.38 L157,92.1 L156.12,92.82 L155.2,93.56 L154.27,94.32 L153.32,95.07 L152.39,95.8 L151.48,96.49 L150.61,97.13 L149.8,97.7 L149.04,98.2 L148.33,98.64 L147.65,99.04 L147,99.39 L146.37,99.72 L145.75,100.02 L145.13,100.31 L144.5,100.6 L143.95,100.86 L143.53,101.08 L143.17,101.26 L142.79,101.44 L142.32,101.61 L141.7,101.8 L140.85,102.03 L139.7,102.3 L138.15,102.63 L136.21,103.01 L134.01,103.43 L131.67,103.86 L129.32,104.29 L127.08,104.7 L125.06,105.08 L123.4,105.4 L122.16,105.66 L121.26,105.86 L120.58,106.03 L120.02,106.18 L119.45,106.33 L118.77,106.49 L117.85,106.67 L116.6,106.9 L114.96,107.18 L113.03,107.49 L110.89,107.83 L108.62,108.19 L106.32,108.54 L104.06,108.89 L101.92,109.21 L100,109.5 L98.36,109.73 L96.96,109.91 L95.69,110.06 L94.46,110.2 L93.18,110.36 L91.74,110.56 L90.04,110.84 L88,111.2 L85.54,111.66 L82.73,112.2 L79.67,112.8 L76.46,113.45 L73.18,114.13 L69.95,114.82 L66.86,115.52 L64,116.2 L61.23,116.92 L58.39,117.71 L55.57,118.54 L52.85,119.36 L50.32,120.15 L48.06,120.86 L46.16,121.46 L44.7,121.9Z" stroke="#111111"/>
</g>
<text x="76.32" y="14.6" font-size="6.7" font-weight="normal" fill="#111" textLength="25.72" lengthAdjust="spacingAndGlyphs" style="stroke:#111;stroke-width:0.12px">100 mV s</text>
<text x="102.2" y="11.3" font-size="4.6" fill="#111" style="stroke:#111;stroke-width:0.12px">-1</text>
<line x1="88.5" y1="17" x2="95.9" y2="22.4" stroke="#2a2a2a" stroke-width="0.75"/>
<text x="62.07" y="27.2" font-size="6.7" font-weight="normal" fill="#111" textLength="22.17" lengthAdjust="spacingAndGlyphs" style="stroke:#111;stroke-width:0.12px">70 mV s</text>
<text x="84.4" y="23.9" font-size="4.6" fill="#111" style="stroke:#111;stroke-width:0.12px">-1</text>
<line x1="75.1" y1="29.6" x2="81.3" y2="35.1" stroke="#2a2a2a" stroke-width="0.75"/>
<text x="47.31" y="37.6" font-size="6.7" font-weight="normal" fill="#111" textLength="22.94" lengthAdjust="spacingAndGlyphs" style="stroke:#111;stroke-width:0.12px">50 mV s</text>
<text x="70.4" y="34.3" font-size="4.6" fill="#111" style="stroke:#111;stroke-width:0.12px">-1</text>
<line x1="61.8" y1="40" x2="68.8" y2="46.9" stroke="#2a2a2a" stroke-width="0.75"/>
<text x="185.7" y="85.7" font-size="6.7" font-weight="normal" fill="#111" textLength="19.74" lengthAdjust="spacingAndGlyphs" style="stroke:#111;stroke-width:0.12px">5 mV s</text>
<text x="205.6" y="82.4" font-size="4.6" fill="#111" style="stroke:#111;stroke-width:0.12px">-1</text>
<line x1="168.5" y1="67.1" x2="186.6" y2="81.2" stroke="#2a2a2a" stroke-width="0.75"/>
<text x="169.44" y="95.7" font-size="6.7" font-weight="normal" fill="#111" textLength="21.59" lengthAdjust="spacingAndGlyphs" style="stroke:#111;stroke-width:0.12px">10 mV s</text>
<text x="191.2" y="92.4" font-size="4.6" fill="#111" style="stroke:#111;stroke-width:0.12px">-1</text>
<line x1="155.2" y1="70.2" x2="171.4" y2="90" stroke="#2a2a2a" stroke-width="0.75"/>
<text x="152.01" y="104.1" font-size="6.7" font-weight="normal" fill="#111" textLength="22.12" lengthAdjust="spacingAndGlyphs" style="stroke:#111;stroke-width:0.12px">20 mV s</text>
<text x="174.3" y="100.8" font-size="4.6" fill="#111" style="stroke:#111;stroke-width:0.12px">-1</text>
<line x1="145.7" y1="75" x2="156.7" y2="98.2" stroke="#2a2a2a" stroke-width="0.75"/>
<text x="136.88" y="113.3" font-size="6.7" font-weight="normal" fill="#111" textLength="22.76" lengthAdjust="spacingAndGlyphs" style="stroke:#111;stroke-width:0.12px">30 mV s</text>
<text x="159.8" y="110" font-size="4.6" fill="#111" style="stroke:#111;stroke-width:0.12px">-1</text>
<line x1="134.7" y1="81.2" x2="142.1" y2="106.8" stroke="#2a2a2a" stroke-width="0.75"/>
<rect x="256.2" y="5.7" width="182" height="133.3" fill="none" stroke="#6a6a6a" stroke-width="1.1"/>
<line x1="253.9" y1="5.7" x2="256.2" y2="5.7" stroke="#6a6a6a" stroke-width="1"/>
<line x1="253.9" y1="26.15" x2="256.2" y2="26.15" stroke="#6a6a6a" stroke-width="1"/>
<line x1="253.9" y1="46.6" x2="256.2" y2="46.6" stroke="#6a6a6a" stroke-width="1"/>
<line x1="253.9" y1="67.05" x2="256.2" y2="67.05" stroke="#6a6a6a" stroke-width="1"/>
<line x1="253.9" y1="87.5" x2="256.2" y2="87.5" stroke="#6a6a6a" stroke-width="1"/>
<line x1="253.9" y1="107.95" x2="256.2" y2="107.95" stroke="#6a6a6a" stroke-width="1"/>
<line x1="253.9" y1="128.4" x2="256.2" y2="128.4" stroke="#6a6a6a" stroke-width="1"/>
<line x1="255" y1="15.93" x2="256.2" y2="15.93" stroke="#6a6a6a" stroke-width="1"/>
<line x1="255" y1="36.38" x2="256.2" y2="36.38" stroke="#6a6a6a" stroke-width="1"/>
<line x1="255" y1="56.83" x2="256.2" y2="56.83" stroke="#6a6a6a" stroke-width="1"/>
<line x1="255" y1="77.28" x2="256.2" y2="77.28" stroke="#6a6a6a" stroke-width="1"/>
<line x1="255" y1="97.72" x2="256.2" y2="97.72" stroke="#6a6a6a" stroke-width="1"/>
<line x1="255" y1="118.17" x2="256.2" y2="118.17" stroke="#6a6a6a" stroke-width="1"/>
<line x1="255" y1="138.62" x2="256.2" y2="138.62" stroke="#6a6a6a" stroke-width="1"/>
<line x1="256.3" y1="139" x2="256.3" y2="141.5" stroke="#6a6a6a" stroke-width="1"/>
<line x1="291" y1="139" x2="291" y2="141.5" stroke="#6a6a6a" stroke-width="1"/>
<line x1="325.7" y1="139" x2="325.7" y2="141.5" stroke="#6a6a6a" stroke-width="1"/>
<line x1="360.4" y1="139" x2="360.4" y2="141.5" stroke="#6a6a6a" stroke-width="1"/>
<line x1="395.1" y1="139" x2="395.1" y2="141.5" stroke="#6a6a6a" stroke-width="1"/>
<line x1="429.8" y1="139" x2="429.8" y2="141.5" stroke="#6a6a6a" stroke-width="1"/>
<line x1="273.65" y1="139" x2="273.65" y2="140.3" stroke="#6a6a6a" stroke-width="1"/>
<line x1="308.35" y1="139" x2="308.35" y2="140.3" stroke="#6a6a6a" stroke-width="1"/>
<line x1="343.05" y1="139" x2="343.05" y2="140.3" stroke="#6a6a6a" stroke-width="1"/>
<line x1="377.75" y1="139" x2="377.75" y2="140.3" stroke="#6a6a6a" stroke-width="1"/>
<line x1="412.45" y1="139" x2="412.45" y2="140.3" stroke="#6a6a6a" stroke-width="1"/>
<text x="252.1" y="7.45" font-size="7.15" font-weight="bold" text-anchor="end" textLength="9.75" lengthAdjust="spacingAndGlyphs" class="tk">140</text>
<text x="252.1" y="27.9" font-size="7.15" font-weight="bold" text-anchor="end" textLength="9.75" lengthAdjust="spacingAndGlyphs" class="tk">130</text>
<text x="252.1" y="48.35" font-size="7.15" font-weight="bold" text-anchor="end" textLength="9.75" lengthAdjust="spacingAndGlyphs" class="tk">120</text>
<text x="252.1" y="68.8" font-size="7.15" font-weight="bold" text-anchor="end" textLength="9.75" lengthAdjust="spacingAndGlyphs" class="tk">110</text>
<text x="252.1" y="89.25" font-size="7.15" font-weight="bold" text-anchor="end" textLength="9.75" lengthAdjust="spacingAndGlyphs" class="tk">100</text>
<text x="252.1" y="109.7" font-size="7.15" font-weight="bold" text-anchor="end" textLength="6.5" lengthAdjust="spacingAndGlyphs" class="tk">90</text>
<text x="252.1" y="130.15" font-size="7.15" font-weight="bold" text-anchor="end" textLength="6.5" lengthAdjust="spacingAndGlyphs" class="tk">80</text>
<text x="256.3" y="149.2" font-size="7.26" font-weight="bold" text-anchor="middle" textLength="3.3" lengthAdjust="spacingAndGlyphs" class="tk">0</text>
<text x="291" y="149.2" font-size="7.26" font-weight="bold" text-anchor="middle" textLength="6.6" lengthAdjust="spacingAndGlyphs" class="tk">20</text>
<text x="325.7" y="149.2" font-size="7.26" font-weight="bold" text-anchor="middle" textLength="6.6" lengthAdjust="spacingAndGlyphs" class="tk">40</text>
<text x="360.4" y="149.2" font-size="7.26" font-weight="bold" text-anchor="middle" textLength="6.6" lengthAdjust="spacingAndGlyphs" class="tk">60</text>
<text x="395.1" y="149.2" font-size="7.26" font-weight="bold" text-anchor="middle" textLength="6.6" lengthAdjust="spacingAndGlyphs" class="tk">80</text>
<text x="429.8" y="149.2" font-size="7.26" font-weight="bold" text-anchor="middle" textLength="9.9" lengthAdjust="spacingAndGlyphs" class="tk">100</text>
<text x="312.46" y="158.6" font-size="8.3" font-weight="bold" fill="#000" textLength="61" lengthAdjust="spacingAndGlyphs" >Scan rate (mV/s )</text>
<text transform="translate(236.2,121.46) rotate(-90)" x="0" y="0" font-size="8.4" font-weight="bold" fill="#000" textLength="93.53" lengthAdjust="spacingAndGlyphs">Specific capacitance (F/g)</text>
<text y="16.7" font-size="9.8" font-weight="bold"><tspan x="266.77">(</tspan><tspan x="271.56">b</tspan><tspan x="278.27">)</tspan></text>
<path d="M264.98,22.88 C266.42,25.13 269.31,32.52 273.65,36.38" fill="none" stroke="#111" stroke-width="1.3" stroke-dasharray="5.6 5.4" stroke-dashoffset="-2.6"/>
<path d="M273.65,36.38 C277.99,40.23 285.22,42.44 291,45.99" fill="none" stroke="#111" stroke-width="1.3" stroke-dasharray="5.6 5.4" stroke-dashoffset="-2.6"/>
<path d="M291,45.99 C296.78,49.53 299.68,52.02 308.35,57.64" fill="none" stroke="#111" stroke-width="1.3" stroke-dasharray="5.6 5.4" stroke-dashoffset="-2.6"/>
<path d="M308.35,57.64 C317.03,63.27 331.48,72.5 343.05,79.73" fill="none" stroke="#111" stroke-width="1.3" stroke-dasharray="5.6 5.4" stroke-dashoffset="-2.6"/>
<path d="M343.05,79.73 C354.62,86.95 363.29,93.23 377.75,101" fill="none" stroke="#111" stroke-width="1.3" stroke-dasharray="5.6 5.4" stroke-dashoffset="-2.6"/>
<path d="M377.75,101 C392.21,108.77 421.12,122.13 429.8,126.36" fill="none" stroke="#111" stroke-width="1.3" stroke-dasharray="5.6 5.4" stroke-dashoffset="-2.6"/>
<circle cx="264.98" cy="22.88" r="1.8" fill="#fff" stroke="#000" stroke-width="1.2"/>
<circle cx="273.65" cy="36.38" r="1.8" fill="#fff" stroke="#000" stroke-width="1.2"/>
<circle cx="291" cy="45.99" r="1.8" fill="#fff" stroke="#000" stroke-width="1.2"/>
<circle cx="308.35" cy="57.64" r="1.8" fill="#fff" stroke="#000" stroke-width="1.2"/>
<circle cx="343.05" cy="79.73" r="1.8" fill="#fff" stroke="#000" stroke-width="1.2"/>
<circle cx="377.75" cy="101" r="1.8" fill="#fff" stroke="#000" stroke-width="1.2"/>
<circle cx="429.8" cy="126.36" r="1.8" fill="#fff" stroke="#000" stroke-width="1.2"/>
<rect x="28.5" y="166.6" width="185" height="136" fill="none" stroke="#6a6a6a" stroke-width="1.1"/>
<line x1="26.2" y1="291.1" x2="28.5" y2="291.1" stroke="#6a6a6a" stroke-width="1"/>
<line x1="26.2" y1="268.44" x2="28.5" y2="268.44" stroke="#6a6a6a" stroke-width="1"/>
<line x1="26.2" y1="245.78" x2="28.5" y2="245.78" stroke="#6a6a6a" stroke-width="1"/>
<line x1="26.2" y1="223.12" x2="28.5" y2="223.12" stroke="#6a6a6a" stroke-width="1"/>
<line x1="26.2" y1="200.46" x2="28.5" y2="200.46" stroke="#6a6a6a" stroke-width="1"/>
<line x1="26.2" y1="177.8" x2="28.5" y2="177.8" stroke="#6a6a6a" stroke-width="1"/>
<line x1="27.3" y1="302.43" x2="28.5" y2="302.43" stroke="#6a6a6a" stroke-width="1"/>
<line x1="27.3" y1="279.77" x2="28.5" y2="279.77" stroke="#6a6a6a" stroke-width="1"/>
<line x1="27.3" y1="257.11" x2="28.5" y2="257.11" stroke="#6a6a6a" stroke-width="1"/>
<line x1="27.3" y1="234.45" x2="28.5" y2="234.45" stroke="#6a6a6a" stroke-width="1"/>
<line x1="27.3" y1="211.79" x2="28.5" y2="211.79" stroke="#6a6a6a" stroke-width="1"/>
<line x1="27.3" y1="189.13" x2="28.5" y2="189.13" stroke="#6a6a6a" stroke-width="1"/>
<line x1="27.3" y1="166.47" x2="28.5" y2="166.47" stroke="#6a6a6a" stroke-width="1"/>
<line x1="43.92" y1="302.6" x2="43.92" y2="305.1" stroke="#6a6a6a" stroke-width="1"/>
<line x1="74.76" y1="302.6" x2="74.76" y2="305.1" stroke="#6a6a6a" stroke-width="1"/>
<line x1="105.6" y1="302.6" x2="105.6" y2="305.1" stroke="#6a6a6a" stroke-width="1"/>
<line x1="136.44" y1="302.6" x2="136.44" y2="305.1" stroke="#6a6a6a" stroke-width="1"/>
<line x1="167.28" y1="302.6" x2="167.28" y2="305.1" stroke="#6a6a6a" stroke-width="1"/>
<line x1="198.12" y1="302.6" x2="198.12" y2="305.1" stroke="#6a6a6a" stroke-width="1"/>
<line x1="28.5" y1="302.6" x2="28.5" y2="303.9" stroke="#6a6a6a" stroke-width="1"/>
<line x1="59.34" y1="302.6" x2="59.34" y2="303.9" stroke="#6a6a6a" stroke-width="1"/>
<line x1="90.18" y1="302.6" x2="90.18" y2="303.9" stroke="#6a6a6a" stroke-width="1"/>
<line x1="121.02" y1="302.6" x2="121.02" y2="303.9" stroke="#6a6a6a" stroke-width="1"/>
<line x1="151.86" y1="302.6" x2="151.86" y2="303.9" stroke="#6a6a6a" stroke-width="1"/>
<line x1="182.7" y1="302.6" x2="182.7" y2="303.9" stroke="#6a6a6a" stroke-width="1"/>
<line x1="213.54" y1="302.6" x2="213.54" y2="303.9" stroke="#6a6a6a" stroke-width="1"/>
<text x="14.71" y="293.05" font-size="7.1" font-weight="bold" fill="#222" textLength="9.58" lengthAdjust="spacingAndGlyphs" class="tk">0.0</text>
<text x="14.71" y="270.39" font-size="7.1" font-weight="bold" fill="#222" textLength="9.62" lengthAdjust="spacingAndGlyphs" class="tk">0.2</text>
<text x="14.71" y="247.73" font-size="7.1" font-weight="bold" fill="#222" textLength="9.43" lengthAdjust="spacingAndGlyphs" class="tk">0.4</text>
<text x="14.71" y="225.07" font-size="7.1" font-weight="bold" fill="#222" textLength="9.51" lengthAdjust="spacingAndGlyphs" class="tk">0.6</text>
<text x="14.71" y="202.41" font-size="7.1" font-weight="bold" fill="#222" textLength="9.54" lengthAdjust="spacingAndGlyphs" class="tk">0.8</text>
<text x="14.36" y="179.75" font-size="7.1" font-weight="bold" fill="#222" textLength="9.94" lengthAdjust="spacingAndGlyphs" class="tk">1.0</text>
<text x="39.3" y="312.4" font-size="7.1" font-weight="bold" fill="#222" textLength="8.95" lengthAdjust="spacingAndGlyphs" class="tk">1.0</text>
<text x="70.13" y="312.4" font-size="7.1" font-weight="bold" fill="#222" textLength="8.98" lengthAdjust="spacingAndGlyphs" class="tk">1.2</text>
<text x="100.99" y="312.4" font-size="7.1" font-weight="bold" fill="#222" textLength="8.79" lengthAdjust="spacingAndGlyphs" class="tk">1.4</text>
<text x="131.82" y="312.4" font-size="7.1" font-weight="bold" fill="#222" textLength="8.88" lengthAdjust="spacingAndGlyphs" class="tk">1.6</text>
<text x="162.66" y="312.4" font-size="7.1" font-weight="bold" fill="#222" textLength="8.91" lengthAdjust="spacingAndGlyphs" class="tk">1.8</text>
<text x="193.78" y="312.4" font-size="7.1" font-weight="bold" fill="#222" textLength="8.65" lengthAdjust="spacingAndGlyphs" class="tk">2.0</text>
<text x="79.14" y="323.6" font-size="8.3" font-weight="bold" fill="#000" textLength="79.53" lengthAdjust="spacingAndGlyphs" >log (Scan rate (mV/s ))</text>
<text transform="translate(8.4,285.57) rotate(-90)" x="0" y="0" font-size="8.4" font-weight="bold" fill="#000" textLength="96.55" lengthAdjust="spacingAndGlyphs">log (Current density(A/g))</text>
<text y="179.8" font-size="9.5" font-weight="bold"><tspan x="36.28">(</tspan><tspan x="39.82">c</tspan><tspan x="45.35">)</tspan></text>
<line x1="46.8" y1="280.5" x2="194.5" y2="176.8" stroke="#b86878" stroke-width="1.15" stroke-dasharray="1.1 2.85" stroke-opacity="0.8"/>
<rect x="42.42" y="282.46" width="3" height="3" fill="#000"/>
<rect x="88.83" y="249.04" width="3" height="3" fill="#000"/>
<rect x="115.97" y="229.1" width="3" height="3" fill="#000"/>
<rect x="150.21" y="204.96" width="3" height="3" fill="#000"/>
<rect x="172.72" y="188.76" width="3" height="3" fill="#000"/>
<rect x="196.62" y="174.94" width="3" height="3" fill="#000"/>
<text x="97.12" y="216.5" font-size="6.2" font-weight="bold" fill="#000" textLength="25.44" lengthAdjust="spacingAndGlyphs" >b = 0.957</text>
<rect x="255.6" y="167.8" width="185.4" height="135.9" fill="none" stroke="#6a6a6a" stroke-width="1.1"/>
<line x1="253.3" y1="303.7" x2="255.6" y2="303.7" stroke="#6a6a6a" stroke-width="1"/>
<line x1="253.3" y1="284.25" x2="255.6" y2="284.25" stroke="#6a6a6a" stroke-width="1"/>
<line x1="253.3" y1="264.8" x2="255.6" y2="264.8" stroke="#6a6a6a" stroke-width="1"/>
<line x1="253.3" y1="245.35" x2="255.6" y2="245.35" stroke="#6a6a6a" stroke-width="1"/>
<line x1="253.3" y1="225.9" x2="255.6" y2="225.9" stroke="#6a6a6a" stroke-width="1"/>
<line x1="253.3" y1="206.45" x2="255.6" y2="206.45" stroke="#6a6a6a" stroke-width="1"/>
<line x1="253.3" y1="187" x2="255.6" y2="187" stroke="#6a6a6a" stroke-width="1"/>
<line x1="253.3" y1="167.55" x2="255.6" y2="167.55" stroke="#6a6a6a" stroke-width="1"/>
<line x1="254.4" y1="293.97" x2="255.6" y2="293.97" stroke="#6a6a6a" stroke-width="1"/>
<line x1="254.4" y1="274.52" x2="255.6" y2="274.52" stroke="#6a6a6a" stroke-width="1"/>
<line x1="254.4" y1="255.07" x2="255.6" y2="255.07" stroke="#6a6a6a" stroke-width="1"/>
<line x1="254.4" y1="235.62" x2="255.6" y2="235.62" stroke="#6a6a6a" stroke-width="1"/>
<line x1="254.4" y1="216.17" x2="255.6" y2="216.17" stroke="#6a6a6a" stroke-width="1"/>
<line x1="254.4" y1="196.72" x2="255.6" y2="196.72" stroke="#6a6a6a" stroke-width="1"/>
<line x1="254.4" y1="177.27" x2="255.6" y2="177.27" stroke="#6a6a6a" stroke-width="1"/>
<line x1="264.4" y1="303.7" x2="264.4" y2="306.2" stroke="#6a6a6a" stroke-width="1"/>
<line x1="298.06" y1="303.7" x2="298.06" y2="306.2" stroke="#6a6a6a" stroke-width="1"/>
<line x1="331.72" y1="303.7" x2="331.72" y2="306.2" stroke="#6a6a6a" stroke-width="1"/>
<line x1="365.38" y1="303.7" x2="365.38" y2="306.2" stroke="#6a6a6a" stroke-width="1"/>
<line x1="399.04" y1="303.7" x2="399.04" y2="306.2" stroke="#6a6a6a" stroke-width="1"/>
<line x1="432.7" y1="303.7" x2="432.7" y2="306.2" stroke="#6a6a6a" stroke-width="1"/>
<line x1="281.23" y1="303.7" x2="281.23" y2="305" stroke="#6a6a6a" stroke-width="1"/>
<line x1="314.89" y1="303.7" x2="314.89" y2="305" stroke="#6a6a6a" stroke-width="1"/>
<line x1="348.55" y1="303.7" x2="348.55" y2="305" stroke="#6a6a6a" stroke-width="1"/>
<line x1="382.21" y1="303.7" x2="382.21" y2="305" stroke="#6a6a6a" stroke-width="1"/>
<line x1="415.87" y1="303.7" x2="415.87" y2="305" stroke="#6a6a6a" stroke-width="1"/>
<text x="251.05" y="306.25" font-size="7.17" font-weight="bold" text-anchor="end" textLength="3.2" lengthAdjust="spacingAndGlyphs" class="tk">0</text>
<text x="251.05" y="286.8" font-size="7.17" font-weight="bold" text-anchor="end" textLength="6.4" lengthAdjust="spacingAndGlyphs" class="tk">20</text>
<text x="251.05" y="267.35" font-size="7.17" font-weight="bold" text-anchor="end" textLength="6.4" lengthAdjust="spacingAndGlyphs" class="tk">40</text>
<text x="251.05" y="247.9" font-size="7.17" font-weight="bold" text-anchor="end" textLength="6.4" lengthAdjust="spacingAndGlyphs" class="tk">60</text>
<text x="251.05" y="228.45" font-size="7.17" font-weight="bold" text-anchor="end" textLength="6.4" lengthAdjust="spacingAndGlyphs" class="tk">80</text>
<text x="251.05" y="209" font-size="7.17" font-weight="bold" text-anchor="end" textLength="9.6" lengthAdjust="spacingAndGlyphs" class="tk">100</text>
<text x="251.05" y="189.55" font-size="7.17" font-weight="bold" text-anchor="end" textLength="9.6" lengthAdjust="spacingAndGlyphs" class="tk">120</text>
<text x="251.05" y="170.1" font-size="7.17" font-weight="bold" text-anchor="end" textLength="9.6" lengthAdjust="spacingAndGlyphs" class="tk">140</text>
<text x="264.4" y="313.8" font-size="7.17" font-weight="bold" text-anchor="middle" textLength="3.2" lengthAdjust="spacingAndGlyphs" class="tk">0</text>
<text x="298.06" y="313.8" font-size="7.17" font-weight="bold" text-anchor="middle" textLength="9.6" lengthAdjust="spacingAndGlyphs" class="tk">200</text>
<text x="331.72" y="313.8" font-size="7.17" font-weight="bold" text-anchor="middle" textLength="9.6" lengthAdjust="spacingAndGlyphs" class="tk">400</text>
<text x="365.38" y="313.8" font-size="7.17" font-weight="bold" text-anchor="middle" textLength="9.6" lengthAdjust="spacingAndGlyphs" class="tk">600</text>
<text x="399.04" y="313.8" font-size="7.17" font-weight="bold" text-anchor="middle" textLength="9.6" lengthAdjust="spacingAndGlyphs" class="tk">800</text>
<text x="432.7" y="313.8" font-size="7.17" font-weight="bold" text-anchor="middle" textLength="12.8" lengthAdjust="spacingAndGlyphs" class="tk">1000</text>
<text x="322.69" y="323.3" font-size="8.7" font-weight="bold" fill="#000" textLength="50.79" lengthAdjust="spacingAndGlyphs" >Cycle number</text>
<text transform="translate(235,283.36) rotate(-90)" x="0" y="0" font-size="8.4" font-weight="bold" fill="#000" textLength="94.85" lengthAdjust="spacingAndGlyphs">Specific capacitance (F/g)</text>
<text y="181.6" font-size="10" font-weight="bold"><tspan x="262.56">(</tspan><tspan x="266.64">d</tspan><tspan x="275.21">)</tspan></text>
<text x="382.44" y="179.3" font-size="6.6" font-weight="bold" fill="#000" textLength="52.02" lengthAdjust="spacingAndGlyphs" >Scan rate 30 mV/s</text>
<circle cx="264.4" cy="195.27" r="1.7" fill="none" stroke="#000" stroke-width="1.1"/>
<circle cx="268.61" cy="195.27" r="1.7" fill="none" stroke="#000" stroke-width="1.1"/>
<circle cx="272.81" cy="195.27" r="1.7" fill="none" stroke="#000" stroke-width="1.1"/>
<circle cx="277.02" cy="195.27" r="1.7" fill="none" stroke="#000" stroke-width="1.1"/>
<circle cx="281.23" cy="195.85" r="1.7" fill="none" stroke="#000" stroke-width="1.1"/>
<circle cx="285.44" cy="195.85" r="1.7" fill="none" stroke="#000" stroke-width="1.1"/>
<circle cx="289.64" cy="195.85" r="1.7" fill="none" stroke="#000" stroke-width="1.1"/>
<circle cx="293.85" cy="195.85" r="1.7" fill="none" stroke="#000" stroke-width="1.1"/>
<circle cx="298.06" cy="196.53" r="1.7" fill="none" stroke="#000" stroke-width="1.1"/>
<circle cx="302.27" cy="196.53" r="1.7" fill="none" stroke="#000" stroke-width="1.1"/>
<circle cx="306.47" cy="196.53" r="1.7" fill="none" stroke="#000" stroke-width="1.1"/>
<circle cx="310.68" cy="196.53" r="1.7" fill="none" stroke="#000" stroke-width="1.1"/>
<circle cx="314.89" cy="196.53" r="1.7" fill="none" stroke="#000" stroke-width="1.1"/>
<circle cx="319.1" cy="196.53" r="1.7" fill="none" stroke="#000" stroke-width="1.1"/>
<circle cx="323.3" cy="196.53" r="1.7" fill="none" stroke="#000" stroke-width="1.1"/>
<circle cx="327.51" cy="196.53" r="1.7" fill="none" stroke="#000" stroke-width="1.1"/>
<circle cx="331.72" cy="196.53" r="1.7" fill="none" stroke="#000" stroke-width="1.1"/>
<circle cx="335.93" cy="196.53" r="1.7" fill="none" stroke="#000" stroke-width="1.1"/>
<circle cx="340.13" cy="196.53" r="1.7" fill="none" stroke="#000" stroke-width="1.1"/>
<circle cx="344.34" cy="196.53" r="1.7" fill="none" stroke="#000" stroke-width="1.1"/>
<circle cx="348.55" cy="196.53" r="1.7" fill="none" stroke="#000" stroke-width="1.1"/>
<circle cx="352.76" cy="196.53" r="1.7" fill="none" stroke="#000" stroke-width="1.1"/>
<circle cx="356.96" cy="196.53" r="1.7" fill="none" stroke="#000" stroke-width="1.1"/>
<circle cx="361.17" cy="196.53" r="1.7" fill="none" stroke="#000" stroke-width="1.1"/>
<circle cx="365.38" cy="196.53" r="1.7" fill="none" stroke="#000" stroke-width="1.1"/>
<circle cx="369.59" cy="196.53" r="1.7" fill="none" stroke="#000" stroke-width="1.1"/>
<circle cx="373.79" cy="196.53" r="1.7" fill="none" stroke="#000" stroke-width="1.1"/>
<circle cx="378" cy="196.53" r="1.7" fill="none" stroke="#000" stroke-width="1.1"/>
<circle cx="382.21" cy="196.53" r="1.7" fill="none" stroke="#000" stroke-width="1.1"/>
<circle cx="386.42" cy="196.53" r="1.7" fill="none" stroke="#000" stroke-width="1.1"/>
<circle cx="390.62" cy="196.53" r="1.7" fill="none" stroke="#000" stroke-width="1.1"/>
<circle cx="394.83" cy="197.6" r="1.7" fill="none" stroke="#000" stroke-width="1.1"/>
<circle cx="399.04" cy="197.6" r="1.7" fill="none" stroke="#000" stroke-width="1.1"/>
<circle cx="403.25" cy="197.6" r="1.7" fill="none" stroke="#000" stroke-width="1.1"/>
<circle cx="407.45" cy="197.6" r="1.7" fill="none" stroke="#000" stroke-width="1.1"/>
<circle cx="411.66" cy="197.6" r="1.7" fill="none" stroke="#000" stroke-width="1.1"/>
<circle cx="415.87" cy="197.6" r="1.7" fill="none" stroke="#000" stroke-width="1.1"/>
<circle cx="420.08" cy="197.6" r="1.7" fill="none" stroke="#000" stroke-width="1.1"/>
<circle cx="424.28" cy="198.57" r="1.7" fill="none" stroke="#000" stroke-width="1.1"/>
<circle cx="428.49" cy="198.57" r="1.7" fill="none" stroke="#000" stroke-width="1.1"/>
<circle cx="432.7" cy="198.57" r="1.7" fill="none" stroke="#000" stroke-width="1.1"/>
</svg>
</body></html>
